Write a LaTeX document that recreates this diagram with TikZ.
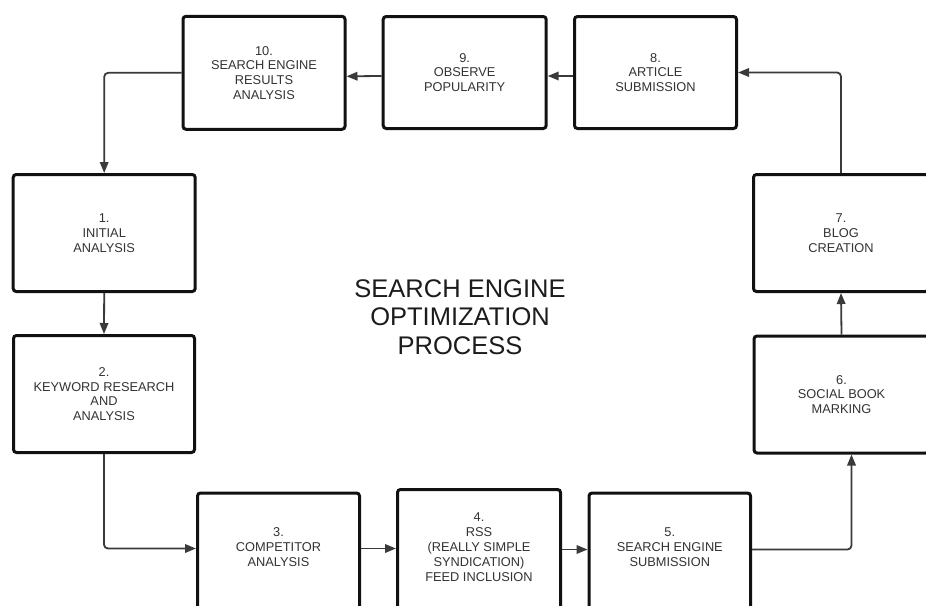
\documentclass[tikz,border=0pt]{standalone}
\usepackage{fontspec}
\setmainfont{Liberation Sans}
\usetikzlibrary{arrows.meta,calc}
\definecolor{boxline}{HTML}{111111}
\definecolor{connline}{HTML}{3A3A3A}
\definecolor{boxtext}{HTML}{333333}
\definecolor{titletext}{HTML}{1C1C1C}
\tikzset{
  stepbox/.style={draw=boxline, line width=3pt, rounded corners=3pt, fill=white,
    inner sep=0pt, align=center, text=boxtext,
    font=\fontsize{12.8}{14.8}\selectfont},
  conn/.style={draw=connline, line width=1.8pt, rounded corners=4pt,
    -{Triangle[length=11pt,width=8.5pt]}},
  titlestyle/.style={align=center, text=titletext, inner sep=0pt,
    font=\fontsize{25.5}{28.5}\selectfont}
}
\begin{document}
\begin{tikzpicture}[x=1pt,y=-1pt]
  \useasboundingbox (0,0) rectangle (926,605);
  \clip (0,0) rectangle (926,605);
  \fill[white] (0,0) rectangle (926,605);

  % process steps, top row
  \node[stepbox, minimum width=162pt, minimum height=113pt] (b10) at (264,72.8)
    {10.\\SEARCH ENGINE\\RESULTS\\ANALYSIS};
  \node[stepbox, minimum width=163pt, minimum height=112pt] (b9) at (464.7,72.5)
    {9.\\OBSERVE\\POPULARITY};
  \node[stepbox, minimum width=162pt, minimum height=112pt] (b8) at (655.5,72.5)
    {8.\\ARTICLE\\SUBMISSION};
  % left column
  \node[stepbox, minimum width=182pt, minimum height=117pt] (b1) at (104.2,233)
    {1.\\INITIAL\\ANALYSIS};
  \node[stepbox, minimum width=181pt, minimum height=117pt] (b2) at (104,394)
    {2.\\KEYWORD RESEARCH\\AND\\ANALYSIS};
  % right column (running past the right edge)
  \node[stepbox, minimum width=175pt, minimum height=117pt] (b7) at (841,233)
    {7.\\BLOG\\CREATION};
  \node[stepbox, minimum width=175pt, minimum height=117pt] (b6) at (841.5,394.5)
    {6.\\SOCIAL BOOK\\MARKING};
  % bottom row (running past the bottom edge; text depth lifts the labels)
  \node[stepbox, minimum width=162pt, minimum height=117pt, text depth=9pt] (b3) at (278.5,551.5)
    {3.\\COMPETITOR\\ANALYSIS};
  \node[stepbox, minimum width=163pt, minimum height=121pt, text depth=6pt] (b4) at (479,550)
    {4.\\RSS\\(REALLY SIMPLE\\SYNDICATION)\\FEED INCLUSION};
  \node[stepbox, minimum width=161.5pt, minimum height=117pt, text depth=9pt] (b5) at (669.8,551.5)
    {5.\\SEARCH ENGINE\\SUBMISSION};

  % title
  \node[titlestyle] (title) at (460,317)
    {SEARCH ENGINE\\OPTIMIZATION\\PROCESS};

  % connectors
  \draw[conn] (b10.west) -| (b1.north);
  \draw[conn] (b1.south) -- (b2.north);
  \draw[conn] (b2.south) |- ([yshift=3pt]b3.west);
  \draw[conn] ([yshift=3pt]b3.east) -- ([yshift=3pt]b3.east -| b4.west);
  \draw[conn] ([yshift=2pt]b5.west -| b4.east) -- ([yshift=2pt]b5.west);
  \draw[conn] ([yshift=2pt]b5.east) -| ([xshift=10pt]b6.south);
  \draw[conn] (b6.north) -- (b7.south);
  \draw[conn] (b7.north) |- (b8.east);
  \draw[conn] ([yshift=-3.5pt]b8.west) -- ([yshift=-3.5pt]b9.east);
  \draw[conn] ([yshift=-3.5pt]b9.west) -- ([yshift=-3.5pt]b10.east);
\end{tikzpicture}
\end{document}
